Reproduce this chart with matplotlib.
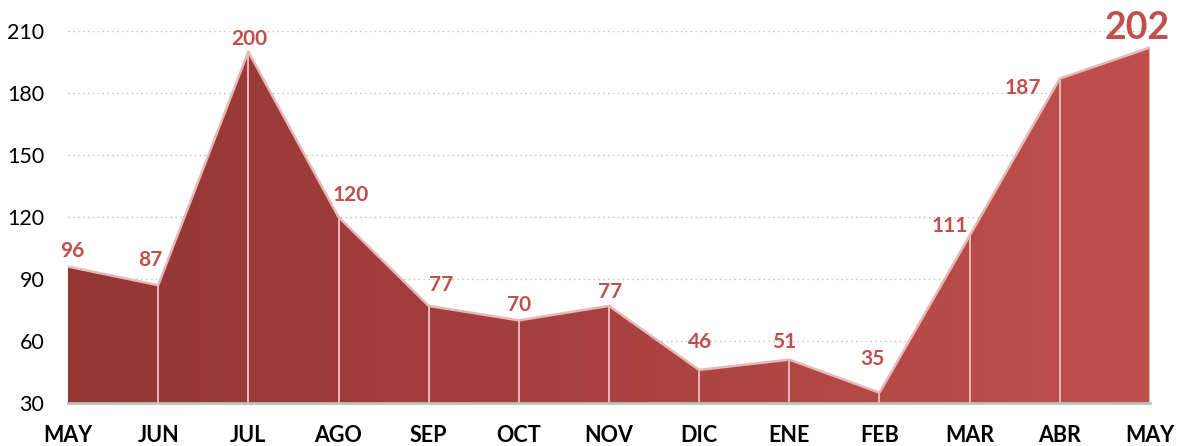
import numpy as np
import matplotlib.pyplot as plt
from matplotlib.colors import LinearSegmentedColormap

months = ["MAY", "JUN", "JUL", "AGO", "SEP", "OCT", "NOV", "DIC", "ENE", "FEB", "MAR", "ABR", "MAY"]
values = [96, 87, 200, 120, 77, 70, 77, 46, 51, 35, 111, 187, 202]
yticks = [30, 60, 90, 120, 150, 180, 210]

# label offsets in points (dx, dy)
offsets = [(3, 11), (-6, 18), (1, 9), (9, 16), (9, 15), (0, 11), (1, 10), (1, 20), (-4, 13),
           (-5, 24), (-14, 7), (-27, -7), (-9, 14)]

plt.rcParams['font.family'] = ['Lato', 'DejaVu Sans']

fig = plt.figure(figsize=(11.82, 4.46), dpi=100)
ax = fig.add_axes([68 / 1182, 43 / 446, (1150 - 68) / 1182, (403 - 31) / 446])

x = np.arange(len(values))
ax.set_xlim(0, len(values) - 1)
ax.set_ylim(30, 210)

# gradient fill clipped by the area
cmap = LinearSegmentedColormap.from_list("reds", ["#943634", "#A94240", "#C0504D"])
grad = np.linspace(0, 1, 256).reshape(1, -1)
poly = ax.fill_between(x, 30, values, color="none", lw=0)
img = ax.imshow(grad, cmap=cmap, aspect="auto", extent=[0, len(values) - 1, 30, 210],
                origin="lower", zorder=2)
clip = poly.get_paths()[0]
img.set_clip_path(clip, transform=ax.transData)

ax.vlines(x[1:], 30, values[1:], color="#E6B9B8", lw=1.4, zorder=3)
ax.plot(x, values, color="#E6B9B8", lw=1.8, zorder=4)

for yv in yticks[1:]:
    ax.axhline(yv, color="#BFBFBF", lw=1, ls=(0, (1, 2.5)), zorder=1)

for i, (v, (dx, dy)) in enumerate(zip(values, offsets)):
    big = i == len(values) - 1
    ax.annotate(str(v), (x[i], v), xytext=(dx, dy), textcoords="offset points",
                ha="center", va="center", color="#C0504D", fontweight="bold",
                fontsize=27 if big else 15, zorder=5)

ax.set_xticks(x)
ax.set_xticklabels(months, fontweight="bold", fontsize=15.5)
ax.set_yticks(yticks)
ax.tick_params(axis="y", labelsize=15.5, length=0, pad=17)
ax.tick_params(axis="x", length=0, pad=16)

for s in ["top", "right", "left"]:
    ax.spines[s].set_visible(False)
ax.spines["bottom"].set_color("#BFBFBF")
ax.spines["bottom"].set_linewidth(2)
ax.spines["bottom"].set_zorder(6)

fig.savefig("out.png", dpi=100)
